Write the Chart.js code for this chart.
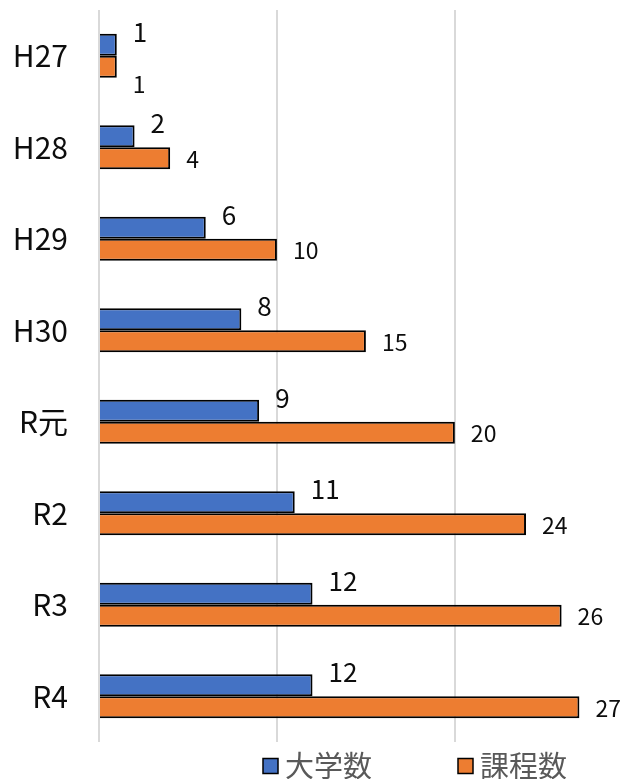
<!DOCTYPE html>
<html lang="ja">
<head>
<meta charset="utf-8">
<title>大学数・課程数</title>
<script src="https://cdn.jsdelivr.net/npm/chart.js@4"></script>
<style>
  html, body { margin: 0; padding: 0; background: #fff; overflow: hidden; }
  #wrap { width: 624px; height: 779px; }
</style>
</head>
<body>
<div id="wrap"><canvas id="countChart" width="624" height="779"></canvas></div>
<script>
// yearly counts
const years = ['H27', 'H28', 'H29', 'H30', 'R元', 'R2', 'R3', 'R4'];
const universityCounts = [1, 2, 6, 8, 9, 11, 12, 12];
const programCounts = [1, 4, 10, 15, 20, 24, 26, 27];
const seriesNames = ['大学数', '課程数'];
const seriesColors = ['#4472C4', '#ED7D31'];

const fontFamily = '"Noto Sans CJK JP", "Noto Sans", sans-serif';

// value labels: blue ones sit above the bar end, orange ones beside it
const valueLabels = {
  id: 'valueLabels',
  afterDatasetsDraw(chart) {
    const ctx = chart.ctx;
    ctx.save();
    ctx.fillStyle = '#0d0d0d';
    ctx.textAlign = 'left';
    ctx.textBaseline = 'middle';
    chart.data.datasets.forEach((dataset, i) => {
      const meta = chart.getDatasetMeta(i);
      meta.data.forEach((bar, j) => {
        const text = String(dataset.data[j]);
        if (i === 0) {
          ctx.font = `26px ${fontFamily}`;
          ctx.fillText(text, bar.x + 16, bar.y - bar.height / 2 - 2);
        } else {
          // the first orange label was pushed down below its bar
          const dy = j === 0 ? 18 : 1;
          ctx.font = `23px ${fontFamily}`;
          ctx.fillText(text, bar.x + 16, bar.y + dy);
        }
      });
    });
    ctx.restore();
  }
};

// legend along the bottom edge
const bottomLegend = {
  id: 'bottomLegend',
  afterDraw(chart) {
    const ctx = chart.ctx;
    const y = 766;
    const box = 15;
    ctx.save();
    ctx.font = `29px ${fontFamily}`;
    ctx.textBaseline = 'middle';
    let x = 263;
    chart.data.datasets.forEach((dataset) => {
      ctx.fillStyle = dataset.backgroundColor;
      ctx.fillRect(x, y - box / 2, box, box);
      ctx.strokeStyle = '#000';
      ctx.lineWidth = 1.5;
      ctx.strokeRect(x, y - box / 2, box, box);
      ctx.fillStyle = '#595959';
      ctx.fillText(dataset.label, x + box + 7, y);
      x += 195;
    });
    ctx.restore();
  }
};

const countChart = new Chart(document.getElementById('countChart'), {
  type: 'bar',
  data: {
    labels: years,
    datasets: [
      {
        label: seriesNames[0],
        data: universityCounts,
        backgroundColor: seriesColors[0],
        borderColor: '#000',
        borderWidth: 2
      },
      {
        label: seriesNames[1],
        data: programCounts,
        backgroundColor: seriesColors[1],
        borderColor: '#000',
        borderWidth: 2
      }
    ]
  },
  options: {
    indexAxis: 'y',
    responsive: false,
    animation: false,
    events: [],
    layout: { padding: { top: 10, right: 9, bottom: 37, left: 0 } },
    datasets: { bar: { categoryPercentage: 0.48, barPercentage: 1.0 } },
    plugins: {
      legend: { display: false },
      tooltip: { enabled: false }
    },
    scales: {
      x: {
        min: 0,
        max: 29,
        ticks: { display: false, stepSize: 10 },
        border: { display: false },
        grid: {
          drawTicks: false,
          lineWidth: 2,
          color: (c) => (c.tick && c.tick.value % 10 === 0 ? '#d9d9d9' : 'rgba(0,0,0,0)')
        },
        afterFit: (scale) => { scale.height = 0; }
      },
      y: {
        border: { display: false },
        grid: { display: false },
        ticks: {
          color: '#0d0d0d',
          padding: 23,
          font: { family: fontFamily, size: 30 }
        },
        afterFit: (scale) => {
          scale.width = 99;
          scale.paddingTop = 0;
          scale.paddingBottom = 0;
        }
      }
    }
  },
  plugins: [valueLabels, bottomLegend]
});
</script>
</body>
</html>
